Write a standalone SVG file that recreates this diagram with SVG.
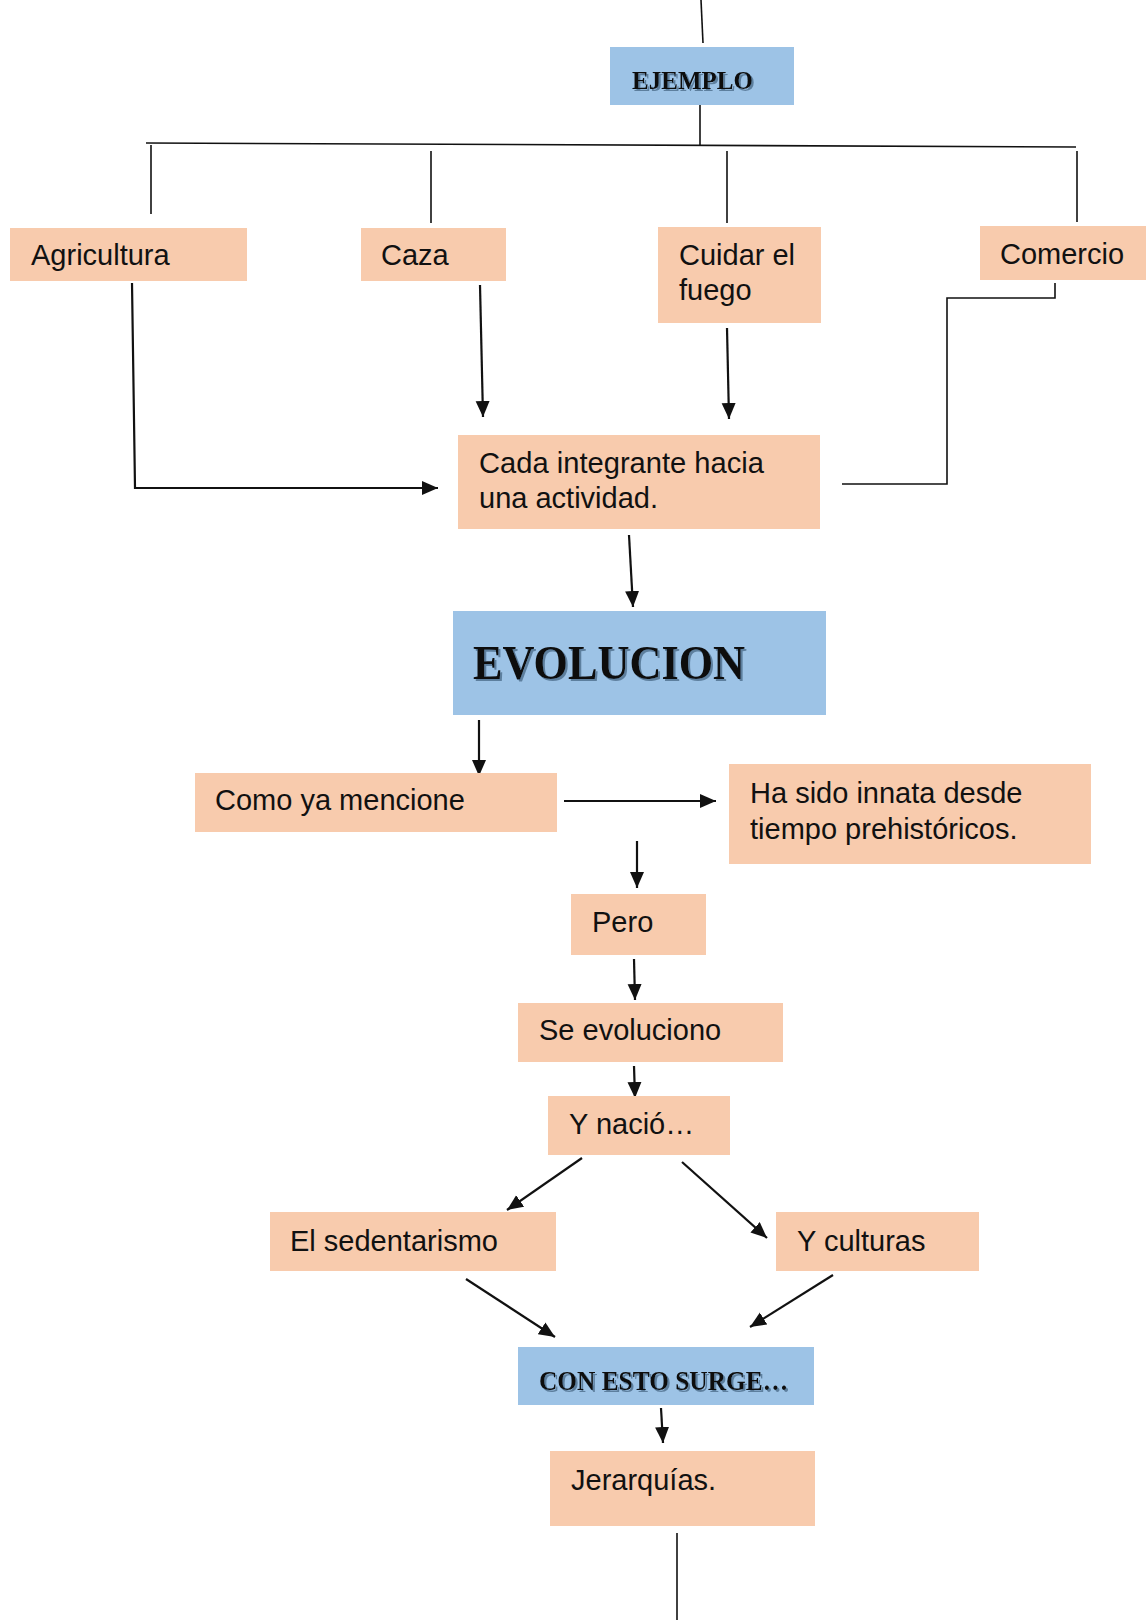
<svg xmlns="http://www.w3.org/2000/svg" width="1146" height="1620" viewBox="0 0 1146 1620">
<style>
.p{fill:#F8CBAD}
.b{fill:#9DC3E6}
.t{font-family:"Liberation Sans",Arial,sans-serif;font-size:29px;fill:#111}
.d{font-family:"Liberation Serif","Times New Roman",serif;font-weight:bold;fill:#111;filter:url(#sh)}
.ln{stroke:#111;stroke-width:1.6;fill:none}
.ar{stroke:#111;stroke-width:2.2;fill:none;marker-end:url(#ah)}
</style>
<defs>
<marker id="ah" markerUnits="userSpaceOnUse" markerWidth="17" markerHeight="15" refX="16" refY="7" orient="auto">
<path d="M0,0 L16,7 L0,14 z" fill="#111"/>
</marker>
<filter id="sh" x="-5%" y="-20%" width="110%" height="140%">
<feDropShadow dx="2" dy="2" stdDeviation="0" flood-color="#5d7f9e" flood-opacity="1"/>
</filter>
</defs>
<rect width="1146" height="1620" fill="#fff"/>

<g id="connectors">
<line class="ln" x1="701" y1="0" x2="703" y2="43"/>
<line class="ln" x1="700" y1="105" x2="700" y2="146"/>
<line class="ln" x1="146" y1="143" x2="1076" y2="147"/>
<line class="ln" x1="151" y1="145" x2="151" y2="214"/>
<line class="ln" x1="431" y1="151" x2="431" y2="223"/>
<line class="ln" x1="727" y1="151" x2="727" y2="223"/>
<line class="ln" x1="1077" y1="151" x2="1077" y2="222"/>
<polyline class="ar" points="132,283 135,488 438,488"/>
<line class="ar" x1="480" y1="285" x2="483" y2="417"/>
<line class="ar" x1="727" y1="328" x2="729" y2="419"/>
<polyline class="ln" points="1055,283 1055,298 947,298 947,484 842,484"/>
<line class="ar" x1="629" y1="535" x2="633" y2="607"/>
<line class="ar" x1="479" y1="720" x2="479" y2="776"/>
<line class="ar" x1="564" y1="801" x2="716" y2="801"/>
<line class="ar" x1="637" y1="841" x2="637" y2="888"/>
<line class="ar" x1="634" y1="959" x2="635" y2="1000"/>
<line class="ar" x1="634" y1="1066" x2="635" y2="1098"/>
<line class="ar" x1="582" y1="1158" x2="507" y2="1210"/>
<line class="ar" x1="682" y1="1162" x2="767" y2="1238"/>
<line class="ar" x1="466" y1="1279" x2="555" y2="1337"/>
<line class="ar" x1="833" y1="1275" x2="750" y2="1327"/>
<line class="ar" x1="661" y1="1408" x2="663" y2="1443"/>
<line class="ln" x1="677" y1="1533" x2="677" y2="1620"/>
</g>

<g id="ejemplo">
<rect class="b" x="610" y="47" width="184" height="58"/>
<text class="d" x="632" y="89" font-size="26" textLength="121" lengthAdjust="spacingAndGlyphs">EJEMPLO</text>
</g>
<g id="agricultura">
<rect class="p" x="10" y="228" width="237" height="53"/>
<text class="t" x="31" y="265">Agricultura</text>
</g>
<g id="caza">
<rect class="p" x="361" y="228" width="145" height="53"/>
<text class="t" x="381" y="265">Caza</text>
</g>
<g id="cuidar">
<rect class="p" x="658" y="227" width="163" height="96"/>
<text class="t" x="679" y="265">Cuidar el</text>
<text class="t" x="679" y="300">fuego</text>
</g>
<g id="comercio">
<rect class="p" x="980" y="226" width="166" height="54"/>
<text class="t" x="1000" y="264">Comercio</text>
</g>
<g id="cada">
<rect class="p" x="458" y="435" width="362" height="94"/>
<text class="t" x="479" y="473" textLength="285" lengthAdjust="spacingAndGlyphs">Cada integrante hacia</text>
<text class="t" x="479" y="508">una actividad.</text>
</g>
<g id="evolucion">
<rect class="b" x="453" y="611" width="373" height="104"/>
<text class="d" x="473" y="679" font-size="48" textLength="272" lengthAdjust="spacingAndGlyphs">EVOLUCION</text>
</g>
<g id="como">
<rect class="p" x="195" y="773" width="362" height="59"/>
<text class="t" x="215" y="810">Como ya mencione</text>
</g>
<g id="hasido">
<rect class="p" x="729" y="764" width="362" height="100"/>
<text class="t" x="750" y="803">Ha sido innata desde</text>
<text class="t" x="750" y="839">tiempo prehistóricos.</text>
</g>
<g id="pero">
<rect class="p" x="571" y="894" width="135" height="61"/>
<text class="t" x="592" y="932">Pero</text>
</g>
<g id="seevoluciono">
<rect class="p" x="518" y="1003" width="265" height="59"/>
<text class="t" x="539" y="1040">Se evoluciono</text>
</g>
<g id="ynacio">
<rect class="p" x="548" y="1096" width="182" height="59"/>
<text class="t" x="569" y="1134">Y nació…</text>
</g>
<g id="sedentarismo">
<rect class="p" x="270" y="1212" width="286" height="59"/>
<text class="t" x="290" y="1251">El sedentarismo</text>
</g>
<g id="culturas">
<rect class="p" x="776" y="1212" width="203" height="59"/>
<text class="t" x="797" y="1251">Y culturas</text>
</g>
<g id="conesto">
<rect class="b" x="518" y="1347" width="296" height="58"/>
<text class="d" x="539" y="1390" font-size="28" textLength="249" lengthAdjust="spacingAndGlyphs">CON ESTO SURGE…</text>
</g>
<g id="jerarquias">
<rect class="p" x="550" y="1451" width="265" height="75"/>
<text class="t" x="571" y="1490">Jerarquías.</text>
</g>
</svg>
